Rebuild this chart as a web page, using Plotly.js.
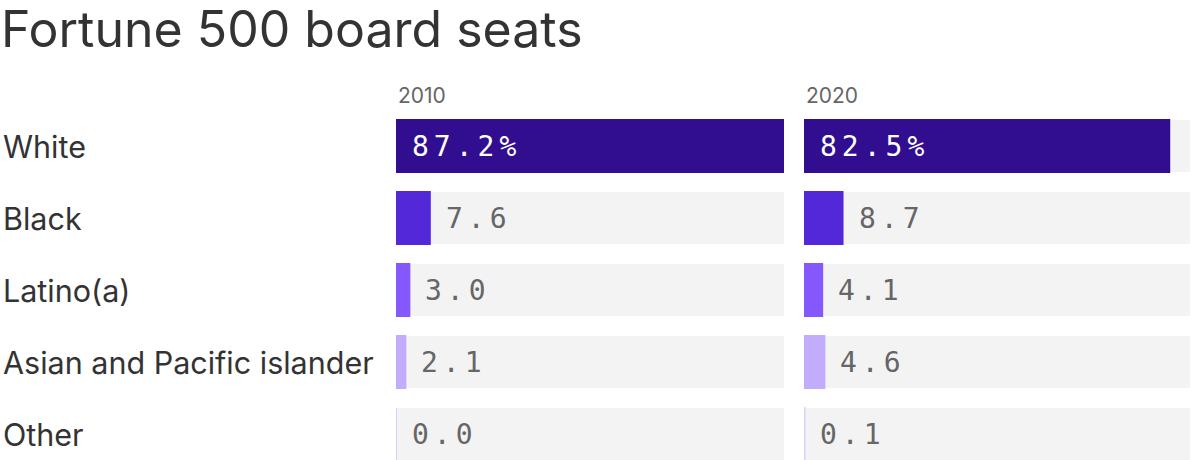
<!DOCTYPE html>
<html>
<head>
<meta charset="utf-8">
<script src="https://cdn.plot.ly/plotly-3.0.1.min.js"></script>
<style>
  html, body { margin: 0; padding: 0; background: #ffffff; }
  #chart { width: 1200px; height: 460px; }
  text.annotation-text[style*="Mono"] { letter-spacing: 5px; }
</style>
</head>
<body>
<div id="chart"></div>
<script>
const titleText = "Fortune 500 board seats";
const categories = ["White", "Black", "Latino(a)", "Asian and Pacific islander", "Other"];
const years = ["2010", "2020"];
const values2010 = [87.2, 7.6, 3.0, 2.1, 0.0];
const values2020 = [82.5, 8.7, 4.1, 4.6, 0.1];
const labels2010 = ["87.2%", "7.6", "3.0", "2.1", "0.0"];
const labels2020 = ["82.5%", "8.7", "4.1", "4.6", "0.1"];
const barColors = ["#300e8f", "#5328d9", "#8558fd", "#c2acfc", "#d9cffa"];

const seriesValues = [values2010, values2020];
const seriesLabels = [labels2010, labels2020];
const bgMax = Math.max(...values2010, ...values2020);
const axisIds = ["x", "x2"];

const sansFont = "Inter, 'Noto Sans', sans-serif";
const monoFont = "'DejaVu Sans Mono', 'Liberation Mono', monospace";

const traces = [];
const annotations = [];

seriesValues.forEach((vals, p) => {
  traces.push({
    type: "bar", orientation: "h",
    x: categories.map(() => bgMax), y: categories,
    xaxis: axisIds[p], yaxis: "y",
    marker: { color: "#f3f3f3" },
    hoverinfo: "skip", showlegend: false
  });
  traces.push({
    type: "bar", orientation: "h",
    x: vals, y: categories,
    xaxis: axisIds[p], yaxis: "y",
    marker: { color: barColors, line: { color: barColors, width: 2 } },
    hoverinfo: "x+y", showlegend: false
  });
  vals.forEach((v, i) => {
    annotations.push({
      xref: axisIds[p], yref: "y",
      x: i === 0 ? 0 : v, y: categories[i],
      xanchor: "left", yanchor: "middle", xshift: 14,
      text: seriesLabels[p][i], showarrow: false,
      font: { family: monoFont, size: 28, color: i === 0 ? "#ffffff" : "#666666" }
    });
  });
  annotations.push({
    xref: axisIds[p], yref: "paper",
    x: 0, y: 1, xanchor: "left", yanchor: "bottom", yshift: 0,
    text: years[p], showarrow: false,
    font: { family: sansFont, size: 21, color: "#666666" }
  });
});

categories.forEach((c) => {
  annotations.push({
    xref: "paper", yref: "y", x: 0, y: c,
    xanchor: "left", yanchor: "middle", xshift: 1,
    text: c, showarrow: false,
    font: { family: sansFont, size: 30.5, color: "#333333" }
  });
});

const hiddenX = {
  range: [0, bgMax], autorange: false, fixedrange: true,
  showgrid: false, zeroline: false, showline: false,
  showticklabels: false, ticks: ""
};

const layout = {
  width: 1200, height: 460,
  margin: { l: 0, r: 0, t: 110, b: 0, pad: 0 },
  paper_bgcolor: "#ffffff", plot_bgcolor: "#ffffff",
  title: {
    text: titleText, xref: "container", yref: "container",
    x: 0, xanchor: "left", y: 1, yanchor: "top",
    pad: { l: 1, t: 12 },
    font: { family: sansFont, size: 50, color: "#333333" }
  },
  barmode: "overlay",
  bargap: 0.2778,
  xaxis: Object.assign({ domain: [0.33, 0.6533], anchor: "y" }, hiddenX),
  xaxis2: Object.assign({ domain: [0.67, 0.9917], anchor: "y" }, hiddenX),
  yaxis: {
    type: "category", categoryorder: "array", categoryarray: categories,
    range: [4.361, -0.5], autorange: false, fixedrange: true,
    showgrid: false, zeroline: false, showline: false,
    showticklabels: false, ticks: ""
  },
  annotations: annotations,
  showlegend: false
};

Plotly.newPlot("chart", traces, layout, { displayModeBar: false, staticPlot: true });
</script>
</body>
</html>
